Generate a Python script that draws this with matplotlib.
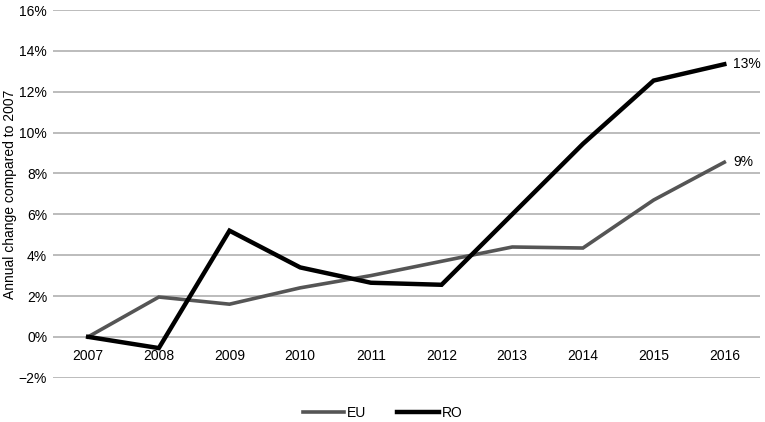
import matplotlib.pyplot as plt
from matplotlib.ticker import FuncFormatter

plt.rcParams['font.family'] = ['Liberation Sans', 'DejaVu Sans']

years = ['2007', '2008', '2009', '2010', '2011', '2012', '2013', '2014', '2015', '2016']
eu = [0.0, 1.95, 1.6, 2.4, 3.0, 3.7, 4.4, 4.35, 6.7, 8.55]
ro = [0.0, -0.55, 5.2, 3.4, 2.65, 2.55, 6.0, 9.45, 12.55, 13.35]

fig = plt.figure(figsize=(7.65, 4.22), dpi=100)
ax = fig.add_axes([0.069, 0.105, 0.924, 0.871])

x = range(len(years))
ax.plot(x, eu, color='#555555', lw=2.6, label='EU', solid_joinstyle='miter', zorder=3)
ax.plot(x, ro, color='#000000', lw=3.2, label='RO', solid_joinstyle='miter', zorder=4)

ax.set_ylim(-2, 16)
ax.set_xlim(-0.5, len(years) - 0.5)
ax.set_yticks(range(-2, 17, 2))
ax.yaxis.set_major_formatter(FuncFormatter(lambda v, p: f'{int(v)}%'.replace('-', '\u2212')))
ax.grid(axis='y', color='#b0b0b0', lw=1.2)
ax.set_axisbelow(True)
for s in ax.spines.values():
    s.set_visible(False)
ax.tick_params(axis='both', length=0, labelsize=10)
ax.tick_params(axis='y', pad=4)
ax.set_xticks([])
for i, yr in enumerate(years):
    ax.text(i, -0.6, yr, ha='center', va='top', fontsize=10)

ax.set_ylabel('Annual change compared to 2007', fontsize=10, labelpad=1)

ax.text(len(years) - 1 + 0.13, ro[-1], f'{round(ro[-1])}%', va='center', ha='left', fontsize=10)
ax.text(len(years) - 1 + 0.13, eu[-1], f'{round(eu[-1])}%', va='center', ha='left', fontsize=10)

fig.legend(loc='center', bbox_to_anchor=(0.5, 0.022), ncol=2, frameon=False,
           fontsize=10, handlelength=3.0, handletextpad=0.2, columnspacing=2.2)

fig.savefig('out.png', dpi=100)
